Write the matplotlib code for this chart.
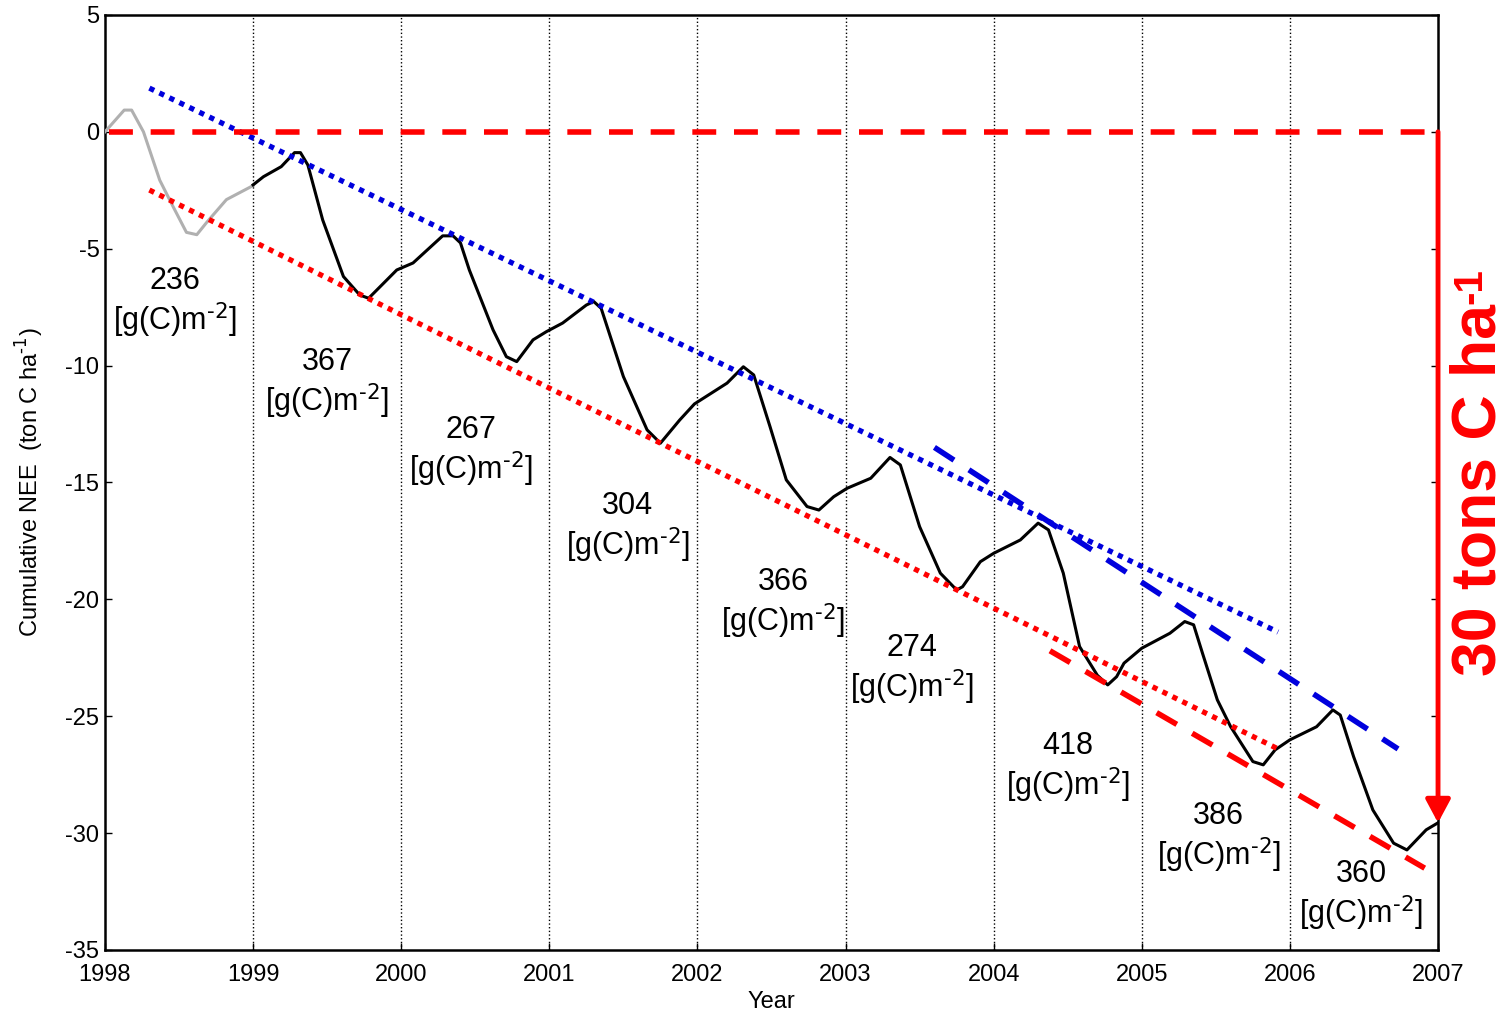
import matplotlib.pyplot as plt

plt.rcParams['font.family'] = ['Liberation Sans', 'DejaVu Sans']
plt.rcParams['axes.unicode_minus'] = False

# gray part (first year)
gray_t = [1998.0, 1998.13, 1998.18, 1998.26, 1998.37, 1998.46, 1998.55, 1998.62,
          1998.69, 1998.82, 1999.0]
gray_v = [0.0, 0.93, 0.93, 0.0, -2.07, -3.2, -4.3, -4.4, -3.85, -2.9, -2.3]

# black cumulative NEE curve
nee_t = [1999.0, 1999.07, 1999.19, 1999.28, 1999.32, 1999.37, 1999.47, 1999.61, 1999.72,
         1999.78, 1999.97, 2000.08, 2000.28, 2000.35, 2000.40, 2000.46, 2000.62, 2000.71,
         2000.78, 2000.89, 2000.98, 2001.09, 2001.25, 2001.30, 2001.35, 2001.50, 2001.66,
         2001.75, 2001.88, 2001.98, 2002.20, 2002.31, 2002.38, 2002.49, 2002.60, 2002.74,
         2002.82, 2002.92, 2003.01, 2003.17, 2003.30, 2003.37, 2003.50, 2003.64, 2003.75,
         2003.79, 2003.91, 2004.0, 2004.18, 2004.30, 2004.37, 2004.47, 2004.58, 2004.70,
         2004.77, 2004.83, 2004.88, 2005.0, 2005.19, 2005.29, 2005.35, 2005.41, 2005.51,
         2005.60, 2005.75, 2005.82, 2005.90, 2006.0, 2006.18, 2006.29, 2006.34, 2006.43,
         2006.56, 2006.70, 2006.79, 2006.92, 2007.0]
nee_v = [-2.27, -1.92, -1.49, -0.89, -0.89, -1.42, -3.77, -6.19, -6.98,
         -7.12, -5.91, -5.61, -4.45, -4.45, -4.75, -5.91, -8.47, -9.62,
         -9.83, -8.90, -8.55, -8.18, -7.41, -7.26, -7.55, -10.47, -12.75,
         -13.32, -12.33, -11.64, -10.75, -10.05, -10.4, -12.61, -14.89, -16.03,
         -16.18, -15.61, -15.25, -14.82, -13.93, -14.25, -16.89, -18.88, -19.6,
         -19.46, -18.39, -18.03, -17.46, -16.74, -17.03, -18.88, -22.02, -23.25,
         -23.66, -23.31, -22.73, -22.09, -21.45, -20.95, -21.09, -22.31, -24.3,
         -25.45, -26.94, -27.08, -26.44, -26.01, -25.45, -24.73, -24.95, -26.73,
         -29.01, -30.43, -30.72, -29.86, -29.56]

# trend lines
blue_dot = ([1998.30, 2005.92], [1.87, -21.4])
red_dot = ([1998.30, 2005.92], [-2.49, -26.4])
blue_dash = ([2003.60, 2006.73], [-13.5, -26.4])
red_dash = ([2004.38, 2006.91], [-22.2, -31.5])
zero_line = ([1998.03, 2007.0], [0.0, 0.0])

# annual sums
ann_val = ['236', '367', '267', '304', '366', '274', '418', '386', '360']
ann_x = [1998.47, 1999.50, 2000.47, 2001.53, 2002.58, 2003.45, 2004.50, 2005.52, 2006.48]
ann_y = [-7.34, -10.78, -13.69, -16.94, -20.19, -23.02, -27.21, -30.2, -32.68]

years = list(range(1998, 2008))

fig = plt.figure(figsize=(15.08, 10.17), dpi=100)
ax = fig.add_axes([0.0696, 0.0659, 0.884, 0.9194])

for y in years[1:-1]:
    ax.axvline(y, color='black', linestyle=':', linewidth=1.0, zorder=1)

ax.plot(gray_t, gray_v, color='#b0b0b0', linewidth=2.2, zorder=3)
ax.plot(nee_t, nee_v, color='black', linewidth=2.2, zorder=3)

ax.plot(*blue_dot, color='#0000dd', linewidth=3.8, linestyle=(0, (1, 1.1)), zorder=4)
ax.plot(*red_dot, color='#ff0000', linewidth=3.8, linestyle=(0, (1, 1.1)), zorder=4)
ax.plot(*blue_dash, color='#0000dd', linewidth=4, linestyle=(0, (4.2, 3.2)), zorder=4)
ax.plot(*red_dash, color='#ff0000', linewidth=4, linestyle=(0, (4.2, 3.2)), zorder=4)
ax.plot(*zero_line, color='#ff0000', linewidth=4, linestyle=(0, (4.3, 3.2)), zorder=4)

ax.annotate('', xy=(2007.0, nee_v[-1]), xytext=(2007.0, 0.0),
            arrowprops=dict(arrowstyle='-|>,head_length=1.4,head_width=0.75',
                            color='#ff0000', linewidth=3.5, shrinkA=0, shrinkB=0),
            annotation_clip=False, zorder=5)

for v, x, y in zip(ann_val, ann_x, ann_y):
    ax.text(x, y, v + '\n[g(C)m$^{\\text{-2}}$]', ha='center', va='center',
            fontsize=22, linespacing=1.15)

# big red label, superscript added as a separate small text
big = ax.text(1.031, 0.492, '30 tons C ha', transform=ax.transAxes,
              rotation=90, ha='center', va='center', color='#ff0000',
              fontsize=45, fontweight='bold')
ax.annotate('-1', xy=(0.02, 1.0), xycoords=big, ha='left', va='bottom',
            rotation=90, color='#ff0000', fontsize=29, fontweight='bold')

ax.set_xlim(1998, 2007)
ax.set_ylim(-35, 5)
ax.set_xticks(years)
ax.set_yticks(range(-35, 6, 5))
ax.tick_params(direction='in', length=5, width=1, labelsize=17, top=False, right=True)
ax.tick_params(axis='x', pad=10)
ax.tick_params(axis='y', pad=4)
ax.set_xlabel('Year', fontsize=17, labelpad=4)
ax.set_ylabel('Cumulative NEE  (ton C ha$^{\\text{-1}}$)', fontsize=17, labelpad=14)
for s in ax.spines.values():
    s.set_linewidth(1.8)

fig.savefig('out.png', dpi=100)
